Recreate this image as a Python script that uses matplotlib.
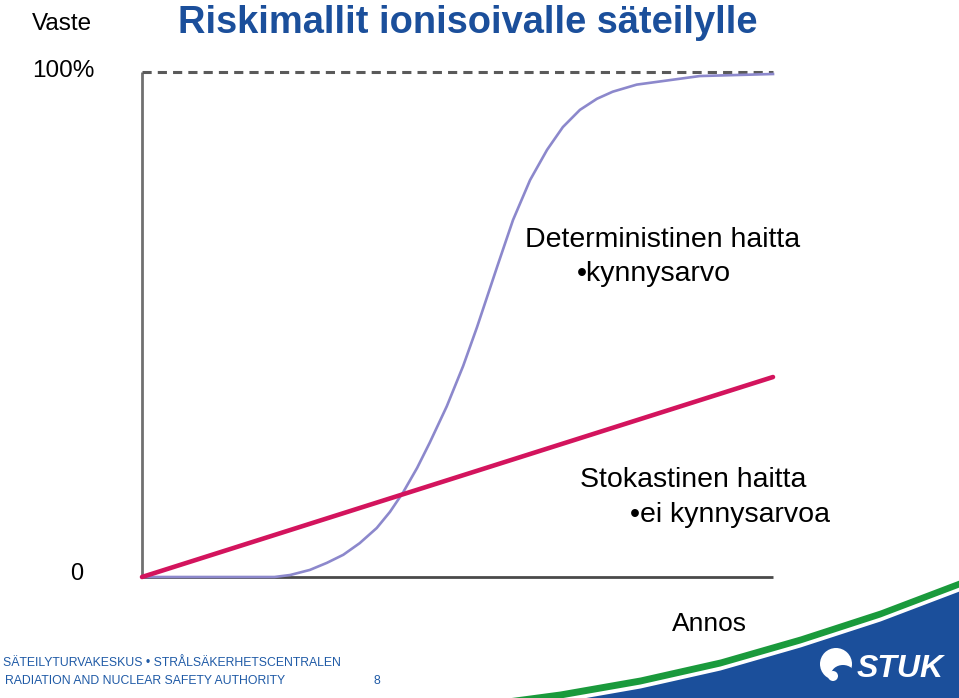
import numpy as np
import matplotlib
matplotlib.use("Agg")
import matplotlib.pyplot as plt
from matplotlib.patches import Circle, Ellipse

plt.rcParams['font.family'] = ['Liberation Sans', 'DejaVu Sans']

# dose (0..10) and response (%)
dose_det = [0.0, 2.10, 2.35, 2.66, 2.93, 3.19, 3.45, 3.72, 3.93, 4.14, 4.36, 4.56,
            4.83, 5.09, 5.31, 5.47, 5.63, 5.88, 6.15, 6.42, 6.67, 6.94, 7.21,
            7.46, 7.84, 8.84, 10.0]
resp_det = [0.0, 0.0, 0.4, 1.4, 2.8, 4.4, 6.7, 9.7, 12.9, 16.8, 21.6, 26.6,
            33.8, 41.8, 49.5, 55.5, 61.5, 70.7, 78.6, 84.6, 89.1, 92.5, 94.7,
            96.1, 97.5, 99.2, 99.6]
dose_sto = [0.0, 10.0]
resp_sto = [0.0, 39.6]
dose_range = [0.0, 10.0]
full_resp = [100.0, 100.0]

W, H = 959, 698
fig = plt.figure(figsize=(W / 100, H / 100), dpi=100)

def fx(x):
    return x / W

def fy(y):
    return 1 - y / H

# background layer in pixel units for the slide decoration
bg = fig.add_axes([0, 0, 1, 1])
bg.set_xlim(0, W)
bg.set_ylim(H, 0)
bg.axis('off')

# logo band: green stripe and blue wedge
xs = np.linspace(470, W, 300)
top_x = [470, 560, 640, 720, 800, 880, 959]
top_y = [703, 691, 677, 659, 636, 610, 580]
g_top = np.interp(xs, top_x, top_y)
bg.fill_between(xs, g_top, g_top + 7, color='#1a9a3c', lw=0)
bg.fill_between(xs, g_top + 11, H, color='#1b4f9b', lw=0)
bg.add_patch(Circle((836, 664), 16, color='white', lw=0))
bg.add_patch(Ellipse((843, 675), 24, 20, color='#1b4f9b', lw=0))
bg.add_patch(Circle((833, 676), 5, color='white', lw=0))
bg.text(857, 677, 'STUK', color='white', fontsize=23, fontweight='bold',
        fontstyle='italic', ha='left', va='baseline')

# chart axes
ax = fig.add_axes([fx(142), fy(577), (773 - 142) / W, (577 - 72) / H])
ax.set_xlim(0, 10)
ax.set_ylim(0, 100)
ax.axis('off')
ax.patch.set_alpha(0)

ax.plot([0, 0], [0, 100], color='#707070', lw=2.0, solid_capstyle='butt', clip_on=False)
ax.plot(dose_range, [0, 0], color='#4a4a4a', lw=2.0, solid_capstyle='butt', clip_on=False)
ax.plot(dose_range, full_resp, color='#5a5a5a', lw=2.2, ls=(0, (3.0, 2.0)), clip_on=False)
ax.plot(dose_det, resp_det, color='#8c88cc', lw=1.9, solid_joinstyle='round', clip_on=False)
ax.plot(dose_sto, resp_sto, color='#d3145d', lw=3.3, solid_capstyle='round', clip_on=False)

# texts
fig.text(fx(32), fy(30), 'Vaste', fontsize=17.5, ha='left', va='baseline')
fig.text(fx(32), fy(77), '100%', fontsize=17.5, ha='left', va='baseline')
fig.text(fx(70), fy(580), '0', fontsize=17, ha='left', va='baseline')
fig.text(fx(178), fy(33), 'Riskimallit ionisoivalle säteilylle', fontsize=27.4,
         fontweight='bold', color='#1b4f9b', ha='left', va='baseline')
fig.text(fx(525), fy(247), 'Deterministinen haitta', fontsize=20.5, ha='left', va='baseline')
fig.text(fx(577), fy(281), '•kynnysarvo', fontsize=20.5, ha='left', va='baseline')
fig.text(fx(580), fy(487), 'Stokastinen haitta', fontsize=20.5, ha='left', va='baseline')
fig.text(fx(630), fy(522), '•ei kynnysarvoa', fontsize=20.5, ha='left', va='baseline')
fig.text(fx(672), fy(631), 'Annos', fontsize=19, ha='left', va='baseline')

fig.text(fx(3), fy(666), 'SÄTEILYTURVAKESKUS • STRÅLSÄKERHETSCENTRALEN', fontsize=8.8,
         color='#1f5aa6', ha='left', va='baseline')
fig.text(fx(5), fy(684), 'RADIATION AND NUCLEAR SAFETY AUTHORITY', fontsize=8.8,
         color='#1f5aa6', ha='left', va='baseline')
fig.text(fx(374), fy(684), '8', fontsize=8.8, color='#1f5aa6', ha='left', va='baseline')

fig.savefig('out.png', dpi=100)
